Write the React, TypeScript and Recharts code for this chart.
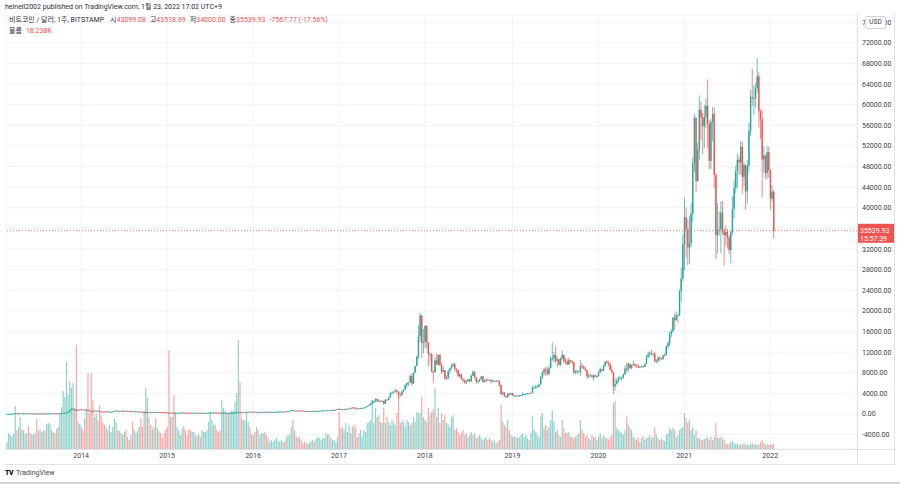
import React from 'react';
import { ComposedChart, Bar, XAxis, YAxis, CartesianGrid, ReferenceLine } from 'recharts';

// ---- data: weekly BTC/USD (Bitstamp), first week = 2013-02-25 ----
const FIRST_OPEN = 31;
const LAST_OPEN = 43099.08;
const FUTURE_WEEKS = 50;

const YEAR_TICKS = [45, 97, 149, 201, 253, 306, 358, 410, 462];
const YEAR_LABELS = ['2014', '2015', '2016', '2017', '2018', '2019', '2020', '2021', '2022'];

// 36000 is hidden behind the last-price tag, as in the reference
const PRICE_TICKS = [-4000, 0, 4000, 8000, 12000, 16000, 20000, 24000, 28000, 32000, 40000, 44000, 48000, 52000, 56000, 60000, 64000, 68000, 72000, 76000];
const GRID_TICKS = [-4000, 0, 4000, 8000, 12000, 16000, 20000, 24000, 28000, 32000, 36000, 40000, 44000, 48000, 52000, 56000, 60000, 64000, 68000, 72000, 76000];

const CLOSE = [
  // 2013
  34, 46, 47, 71, 93, 143, 90, 127, 135, 112, 117, 123, 133, 129, 100, 100, 108, 94, 76, 98, 90, 95, 105, 104, 110, 120, 132, 120, 126, 123, 130, 124, 138, 160, 188, 211, 343, 430, 780, 960, 1010, 870, 640, 730, 900,
  // 2014
  870, 830, 800, 820, 690, 620, 600, 560, 630, 640, 580, 500, 450, 440, 430, 500, 440, 440, 450, 520, 580, 650, 590, 580, 590, 630, 630, 620, 600, 590, 590, 500, 510, 480, 480, 480, 410, 390, 330, 360, 390, 350, 340, 370, 380, 375, 380, 370, 350, 330, 320, 315,
  // 2015
  270, 200, 250, 230, 220, 235, 240, 270, 275, 285, 260, 250, 245, 235, 225, 230, 235, 240, 237, 240, 225, 225, 235, 245, 250, 260, 270, 290, 290, 285, 260, 255, 230, 230, 235, 240, 230, 235, 240, 245, 260, 285, 315, 385, 330, 325, 360, 390, 415, 460, 440, 430,
  // 2016
  450, 380, 400, 375, 375, 380, 435, 430, 410, 410, 415, 415, 415, 420, 425, 445, 460, 460, 455, 440, 525, 535, 580, 760, 665, 675, 650, 665, 660, 655, 590, 570, 580, 575, 575, 605, 610, 600, 610, 615, 640, 655, 700, 700, 710, 740, 730, 750, 765, 790, 890, 975,
  // 2017
  910, 820, 920, 920, 1015, 1000, 1050, 1180, 1255, 1230, 1030, 970, 1090, 1180, 1180, 1250, 1350, 1550, 1720, 2050, 2200, 2520, 2950, 2500, 2580, 2430, 2510, 1970, 2760, 2750, 3220, 4050, 4090, 4350, 4580, 4330, 3700, 3640, 4390, 4750, 5660, 6000, 6130, 7380, 5880, 8050, 9300, 11100, 15050, 19100, 13800, 14000,
  // 2018
  17100, 13800, 11600, 11600, 8200, 8100, 10400, 9600, 11450, 9500, 8200, 8500, 6850, 7000, 8350, 8900, 9400, 9650, 8700, 8500, 7350, 7700, 6780, 6500, 6150, 6380, 6750, 6350, 7400, 8200, 7050, 6300, 6400, 6700, 7300, 6200, 6500, 6700, 6620, 6600, 6300, 6400, 6400, 6450, 6350, 5600, 3900, 4150, 3550, 3250, 3950, 3750, 4050,
  // 2019
  3550, 3550, 3550, 3450, 3650, 3650, 3800, 3850, 3900, 4000, 3980, 4100, 5050, 5050, 5300, 5300, 5750, 7200, 8000, 8700, 8500, 7800, 8900, 10750, 10800, 11450, 10300, 10600, 9500, 10800, 11500, 10200, 10150, 9600, 10450, 10300, 10000, 8050, 8300, 8300, 8200, 9250, 9150, 8800, 8500, 7300, 7400, 7500, 7100, 7500, 7250, 7350,
  // 2020
  8050, 8650, 8350, 9350, 10150, 9900, 9650, 8550, 8050, 5350, 5800, 6400, 6800, 7000, 7100, 7700, 8800, 8750, 9700, 8900, 9450, 9650, 9350, 9300, 9050, 9080, 9250, 9150, 9700, 11000, 11600, 11850, 11650, 11700, 10250, 10350, 10950, 10750, 10650, 11350, 11500, 13100, 13750, 15500, 16050, 18700, 18200, 19150, 19200, 23800, 26300, 33000,
  // 2021
  38200, 35800, 32300, 33100, 38900, 48600, 57500, 45200, 51200, 59000, 57500, 55800, 57600, 59800, 56200, 49100, 56600, 58200, 46400, 34700, 35700, 35800, 39100, 35600, 34700, 35300, 34200, 31800, 35400, 39800, 43800, 47100, 49300, 48800, 51800, 46000, 48300, 43200, 48200, 54900, 61500, 61300, 61300, 63300, 65500, 58700, 57200, 49400, 50100, 46700, 50800, 47300,
  // 2022
  41800, 43107.7, 35539.93,
];

const HIGH = [
  // 2013
  35, 48, 48, 74, 95, 170, 266, 130, 145, 145, 118, 125, 134, 133, 129, 110, 112, 109, 95, 99, 98, 97, 108, 108, 111, 122, 135, 132, 128, 128, 133, 141, 140, 164, 195, 215, 343, 450, 900, 1163, 1160, 1050, 880, 760, 950,
  // 2014
  1000, 920, 870, 850, 830, 710, 660, 620, 680, 670, 640, 590, 510, 480, 460, 530, 510, 455, 460, 525, 600, 680, 670, 610, 600, 650, 650, 640, 630, 600, 600, 595, 525, 520, 500, 490, 485, 420, 400, 380, 410, 400, 360, 380, 450, 400, 390, 385, 375, 355, 335, 325,
  // 2015
  320, 275, 255, 310, 245, 240, 245, 275, 290, 300, 295, 265, 255, 260, 240, 240, 240, 245, 245, 245, 241, 232, 235, 255, 255, 265, 315, 300, 310, 300, 290, 270, 262, 235, 240, 245, 240, 237, 245, 250, 270, 290, 320, 500, 390, 340, 365, 395, 420, 470, 465, 445,
  // 2016
  460, 455, 410, 400, 380, 385, 440, 445, 440, 425, 420, 420, 425, 425, 428, 450, 470, 465, 465, 460, 530, 550, 590, 780, 770, 700, 690, 680, 680, 665, 655, 595, 585, 585, 580, 610, 615, 612, 615, 620, 645, 660, 710, 740, 725, 750, 750, 755, 770, 790, 900, 980,
  // 2017
  1150, 920, 930, 930, 1020, 1050, 1060, 1200, 1270, 1300, 1250, 1070, 1100, 1200, 1210, 1260, 1360, 1600, 1790, 2100, 2760, 2600, 3000, 2980, 2780, 2620, 2680, 2600, 2900, 2840, 3300, 4200, 4450, 4390, 4980, 4720, 4370, 4120, 4420, 4800, 5780, 6180, 6180, 7600, 7880, 8100, 9350, 11380, 17200, 19666, 19150, 16500,
  // 2018
  17250, 17200, 14000, 12000, 11800, 8500, 11000, 11800, 11500, 11700, 10000, 9200, 8500, 7500, 8450, 9000, 9750, 9950, 9950, 8900, 8600, 7800, 7800, 6900, 6850, 6550, 6800, 6800, 7700, 8500, 8250, 7150, 6600, 6900, 7300, 7420, 6650, 6850, 6830, 6700, 6650, 6800, 6500, 6500, 6620, 6500, 5650, 4400, 4300, 3600, 4000, 4150, 4100,
  // 2019
  4100, 3700, 3650, 3600, 3700, 3700, 4200, 3900, 3950, 4050, 4100, 4150, 5400, 5450, 5600, 5650, 5900, 7400, 8300, 8900, 9100, 9100, 9400, 11200, 13880, 12000, 13200, 11100, 10700, 11000, 12300, 11500, 10900, 10650, 10900, 10450, 10400, 10100, 8500, 8650, 8450, 10500, 9900, 9500, 9100, 8600, 7850, 7800, 7650, 7700, 7700, 7550,
  // 2020
  8450, 9000, 8800, 9600, 10200, 10500, 10300, 9950, 9200, 8150, 6950, 6950, 7300, 7450, 7300, 7800, 9450, 10000, 9950, 9850, 9600, 10400, 9950, 9600, 9800, 9300, 9450, 9350, 9800, 11450, 12100, 12100, 12450, 11800, 12050, 10600, 11100, 11200, 10950, 11500, 11750, 13200, 14100, 15950, 16500, 18800, 19500, 19900, 19400, 24200, 28400, 34800,
  // 2021
  41950, 40100, 37800, 38500, 40900, 49700, 58300, 57500, 52600, 61800, 60600, 58400, 60000, 61200, 64900, 57000, 57200, 59500, 59500, 46700, 40900, 39300, 41300, 41300, 36000, 36600, 35900, 34700, 35400, 42200, 45300, 48100, 50500, 50000, 52900, 52900, 48800, 48400, 49200, 56500, 62900, 67000, 63700, 64200, 69000, 66300, 59100, 59000, 51900, 50400, 52000, 51900,
  // 2022
  47500, 44400, 43518.69,
];

const LOW = [
  // 2013
  30, 33, 42, 46, 71, 93, 50, 82, 120, 80, 105, 112, 120, 125, 98, 95, 98, 93, 67, 75, 88, 88, 94, 101, 102, 110, 118, 110, 119, 120, 122, 110, 123, 138, 160, 185, 211, 300, 430, 780, 700, 830, 455, 600, 720,
  // 2014
  820, 800, 760, 740, 660, 500, 550, 400, 540, 600, 560, 480, 440, 420, 340, 400, 420, 420, 430, 440, 520, 570, 580, 560, 560, 580, 610, 610, 590, 580, 570, 490, 480, 470, 460, 465, 400, 380, 320, 275, 340, 340, 330, 320, 330, 350, 360, 360, 340, 310, 310, 300,
  // 2015
  265, 166, 200, 215, 210, 215, 230, 230, 260, 270, 255, 245, 235, 232, 220, 218, 220, 235, 232, 235, 222, 220, 223, 232, 242, 245, 255, 270, 275, 280, 255, 250, 200, 200, 225, 230, 225, 227, 230, 237, 245, 260, 285, 310, 305, 310, 320, 350, 350, 410, 415, 410,
  // 2016
  425, 360, 375, 365, 365, 370, 380, 410, 400, 405, 410, 408, 410, 413, 420, 420, 440, 440, 448, 435, 440, 520, 530, 580, 550, 605, 630, 645, 650, 640, 480, 565, 570, 565, 570, 570, 600, 595, 595, 605, 612, 630, 650, 680, 685, 700, 720, 730, 745, 765, 785, 880,
  // 2017
  750, 760, 800, 880, 910, 930, 975, 1040, 1160, 1000, 940, 890, 930, 1070, 1130, 1150, 1230, 1340, 1550, 1680, 1850, 2100, 2300, 2200, 2330, 2300, 2380, 1800, 1970, 2600, 2700, 3180, 3890, 3980, 4200, 3950, 2980, 3550, 3580, 4150, 4700, 5100, 5400, 6100, 5500, 5850, 7900, 9300, 10700, 14000, 10800, 11800,
  // 2018
  12800, 12600, 9200, 10000, 8150, 6000, 8100, 9500, 9400, 9300, 7750, 8100, 6600, 6580, 6650, 7800, 8700, 9100, 8350, 7950, 7100, 7000, 6650, 6100, 5780, 5800, 6200, 6100, 6250, 7400, 6900, 5900, 5880, 6200, 6650, 6100, 6150, 6150, 6450, 6380, 6000, 6250, 6300, 6280, 6200, 5200, 3500, 3700, 3300, 3150, 3200, 3550, 3700,
  // 2019
  3550, 3500, 3400, 3350, 3380, 3550, 3550, 3700, 3700, 3850, 3900, 3900, 4050, 4900, 4950, 5150, 5200, 5700, 6800, 7400, 7500, 7450, 7500, 8900, 10300, 10000, 9900, 9050, 9400, 9300, 10500, 9900, 9650, 9400, 9550, 9900, 9600, 7700, 7700, 7750, 7950, 7350, 8800, 8700, 8350, 6800, 6900, 7300, 7000, 6450, 7150, 6900,
  // 2020
  7250, 8000, 8250, 8300, 9150, 9700, 9300, 8450, 8000, 3850, 4450, 5700, 6100, 6750, 6500, 6800, 7600, 8150, 8100, 8800, 8600, 9350, 9100, 8950, 8950, 8950, 9050, 9000, 9100, 9650, 10950, 11150, 11400, 11100, 9900, 9850, 9900, 10200, 10500, 10500, 11200, 11350, 12700, 13200, 14850, 15750, 16300, 18100, 17600, 19000, 21800, 25800,
  // 2021
  27800, 30400, 28800, 29200, 32300, 37300, 46800, 43000, 45000, 49300, 53200, 50400, 51600, 55500, 51700, 47500, 47400, 52900, 43800, 30000, 31100, 34600, 31200, 34800, 28800, 32700, 32100, 31000, 29300, 34700, 38000, 42800, 43900, 46300, 46500, 42800, 44100, 39600, 40800, 47000, 53900, 59800, 58000, 59400, 62300, 55600, 53300, 42000, 46800, 45600, 45500, 45800,
  // 2022
  39650, 41250, 34000,
];

// weekly volume, thousand BTC
const VOLUME = [
  // 2013
  26, 58, 51, 44, 55, 157, 69, 80, 117, 73, 69, 55, 58, 84, 58, 55, 51, 58, 110, 66, 73, 62, 69, 66, 91, 95, 91, 69, 62, 58, 73, 80, 131, 153, 212, 190, 318, 197, 248, 223, 241, 146, 380, 99, 91,
  // 2014
  80, 69, 110, 146, 277, 131, 277, 179, 117, 131, 106, 161, 124, 95, 88, 80, 69, 88, 62, 80, 110, 99, 69, 66, 58, 51, 62, 69, 44, 33, 51, 99, 69, 58, 66, 80, 113, 80, 139, 223, 186, 117, 88, 73, 80, 113, 77, 66, 58, 40, 58, 69,
  // 2015
  80, 361, 117, 117, 197, 135, 80, 69, 51, 73, 84, 69, 51, 73, 69, 62, 62, 51, 47, 55, 44, 69, 62, 62, 69, 99, 135, 106, 88, 88, 69, 62, 69, 179, 150, 139, 131, 131, 135, 142, 139, 172, 204, 398, 245, 113, 106, 106, 131, 99, 80, 55,
  // 2016
  51, 62, 80, 69, 51, 58, 58, 62, 51, 40, 26, 33, 26, 33, 40, 29, 26, 33, 26, 26, 44, 51, 51, 80, 106, 69, 47, 40, 44, 33, 22, 26, 22, 18, 22, 29, 33, 26, 37, 44, 40, 33, 40, 40, 58, 51, 51, 40, 33, 33, 26, 44,
  // 2017
  135, 77, 80, 69, 95, 62, 88, 58, 80, 88, 77, 44, 58, 69, 44, 69, 62, 95, 99, 106, 179, 95, 150, 117, 124, 99, 95, 150, 95, 117, 99, 88, 106, 95, 88, 131, 197, 95, 106, 99, 80, 106, 99, 88, 95, 117, 99, 135, 131, 131, 190, 117,
  // 2018
  106, 99, 150, 124, 135, 146, 223, 117, 150, 95, 131, 106, 124, 95, 88, 80, 117, 124, 69, 77, 62, 51, 58, 69, 51, 58, 44, 51, 62, 51, 58, 40, 44, 51, 40, 33, 40, 44, 33, 40, 33, 26, 33, 22, 26, 33, 161, 99, 88, 80, 106, 69, 51,
  // 2019
  44, 47, 44, 40, 44, 51, 58, 44, 51, 40, 33, 58, 120, 69, 62, 51, 44, 117, 131, 77, 88, 69, 80, 106, 142, 99, 62, 69, 51, 44, 106, 77, 58, 58, 62, 44, 44, 40, 44, 51, 58, 106, 69, 58, 44, 51, 40, 33, 51, 44, 44, 33,
  // 2020
  44, 58, 40, 51, 44, 40, 33, 44, 51, 168, 175, 77, 69, 62, 58, 51, 69, 117, 88, 77, 69, 44, 40, 33, 44, 26, 40, 47, 33, 40, 44, 51, 40, 44, 80, 51, 40, 33, 40, 33, 29, 51, 58, 77, 69, 77, 69, 44, 51, 69, 77, 80,
  // 2021
  131, 113, 95, 106, 69, 80, 51, 69, 40, 40, 33, 33, 37, 40, 44, 33, 44, 33, 44, 95, 40, 40, 44, 40, 33, 22, 18, 18, 26, 29, 22, 18, 18, 15, 18, 15, 22, 15, 18, 15, 18, 22, 15, 18, 15, 15, 26, 33, 22, 15, 18, 15,
  // 2022
  15, 18, 18.238,
];

// ---- styling ----
const UP = '#26a69a';
const DOWN = '#ef5350';
const UP_VOL = 'rgba(38,166,154,0.5)';
const DOWN_VOL = 'rgba(239,83,80,0.5)';
const TEXT = '#3b3f48';
const FONT = 'Roboto, "Noto Sans CJK KR", sans-serif';

type Row = { i: number; o?: number; h?: number; l?: number; c?: number; range?: [number, number]; v?: number };

const rows: Row[] = [];
{
  let prev = FIRST_OPEN;
  for (let i = 0; i < CLOSE.length; i++) {
    const o = i === CLOSE.length - 1 ? LAST_OPEN : prev;
    rows.push({ i, o, h: HIGH[i], l: LOW[i], c: CLOSE[i], range: [LOW[i], HIGH[i]], v: VOLUME[i] });
    prev = CLOSE[i];
  }
  for (let k = 0; k < FUTURE_WEEKS; k++) rows.push({ i: CLOSE.length + k });
}

const Candle = (p: any) => {
  const { x, y, width, height, payload } = p;
  if (!payload || payload.h == null || x == null) return <g />;
  const top = Math.min(y, y + height);
  const hh = Math.abs(height);
  const cx = x + width / 2;
  const span = payload.h - payload.l;
  const k = span > 0 ? hh / span : 0;
  const yo = top + (payload.h - payload.o) * k;
  const yc = top + (payload.h - payload.c) * k;
  const color = payload.c >= payload.o ? UP : DOWN;
  const bTop = Math.min(yo, yc);
  const bH = Math.max(Math.abs(yc - yo), 0.9);
  return (
    <g>
      <line x1={cx} x2={cx} y1={top} y2={top + Math.max(hh, 0.9)} stroke={color} strokeWidth={0.7} />
      <rect x={cx - 0.7} y={bTop} width={1.4} height={bH} fill={color} />
    </g>
  );
};

const Vol = (p: any) => {
  const { x, y, width, height, payload } = p;
  if (!payload || payload.v == null || x == null) return <g />;
  const color = payload.c >= payload.o ? UP_VOL : DOWN_VOL;
  return <rect x={x + width / 2 - 0.6} y={y} width={1.2} height={Math.max(height, 0)} fill={color} />;
};

const PriceTag = (p: any) => {
  const vb = p.viewBox || {};
  const x0 = (vb.x || 0) + (vb.width || 0);
  const y0 = vb.y || 0;
  return (
    <g>
      <rect x={x0} y={y0 - 7} width={37} height={19} fill={DOWN} />
      <text x={x0 + 3} y={y0 + 2} fontSize={7} fill="#fff" fontFamily={FONT}>35539.93</text>
      <text x={x0 + 3} y={y0 + 10} fontSize={7} fill="#fff" fontFamily={FONT}>15:57:39</text>
    </g>
  );
};

export default function App() {
  const red = { color: DOWN };
  return (
    <div style={{ position: 'absolute', left: 0, top: 0, width: 900, height: 484, background: '#fff', fontFamily: FONT, overflow: 'hidden' }}>
      <ComposedChart
        width={900}
        height={484}
        data={rows}
        margin={{ top: 15, right: 6, bottom: 20, left: 6 }}
        barCategoryGap={0}
        barGap={0}
      >
        <CartesianGrid xAxisId="p" yAxisId="g" stroke="#f0f3fa" strokeWidth={1} />
        <XAxis
          xAxisId="p"
          dataKey="i"
          type="category"
          ticks={YEAR_TICKS}
          interval={0}
          tickFormatter={(v: number) => YEAR_LABELS[YEAR_TICKS.indexOf(v)] ?? ''}
          axisLine={false}
          tickLine={false}
          tickSize={0}
          tickMargin={4}
          height={15}
          tick={{ fontSize: 7, fill: TEXT, fontFamily: FONT }}
        />
        <XAxis xAxisId="v" dataKey="i" type="category" hide />
        <YAxis
          yAxisId="p"
          orientation="right"
          width={37}
          type="number"
          domain={[-6790, 77400]}
          allowDataOverflow
          ticks={PRICE_TICKS}
          interval={0}
          tickFormatter={(v: number) => v.toFixed(2)}
          axisLine={false}
          tickLine={false}
          tickSize={0}
          tickMargin={5}
          tick={{ fontSize: 7, fill: TEXT, fontFamily: FONT }}
        />
        <YAxis yAxisId="g" hide type="number" domain={[-6790, 77400]} allowDataOverflow ticks={GRID_TICKS} interval={0} />
        <YAxis yAxisId="v" hide type="number" domain={[0, 1584]} allowDataOverflow />
        <Bar xAxisId="v" yAxisId="v" dataKey="v" shape={Vol} isAnimationActive={false} />
        <Bar xAxisId="p" yAxisId="p" dataKey="range" shape={Candle} isAnimationActive={false} />
        <ReferenceLine
          xAxisId="p"
          yAxisId="p"
          y={35539.93}
          stroke={DOWN}
          strokeWidth={0.8}
          strokeDasharray="1 2"
          label={<PriceTag />}
        />
      </ComposedChart>

      {/* frame lines */}
      <div style={{ position: 'absolute', left: 857, top: 13, width: 1, height: 451, background: '#e0e3eb' }} />
      <div style={{ position: 'absolute', left: 894, top: 13, width: 1, height: 451, background: '#e0e3eb' }} />
      <div style={{ position: 'absolute', left: 5, top: 449, width: 890, height: 1, background: '#e0e3eb' }} />
      <div style={{ position: 'absolute', left: 5, top: 464, width: 890, height: 1, background: '#e0e3eb' }} />
      <div style={{ position: 'absolute', left: 0, top: 482, width: 900, height: 2, background: '#d4d4d4' }} />

      {/* USD badge */}
      <div style={{ position: 'absolute', left: 865, top: 16, width: 19, height: 11, border: '1px solid #d1d4dc', borderRadius: 2, background: '#fff', fontSize: 6.5, lineHeight: '11px', textAlign: 'center', color: TEXT }}>USD</div>

      {/* header */}
      <div style={{ position: 'absolute', left: 5, top: 3, fontSize: 7, lineHeight: '9px', color: '#2a2e39', whiteSpace: 'nowrap' }}>
        helnell2002 published on TradingView.com, 1월 23, 2022 17:02 UTC+9
      </div>
      <div style={{ position: 'absolute', left: 9, top: 16, fontSize: 7, lineHeight: '9px', color: '#2a2e39', whiteSpace: 'nowrap' }}>
        <span>비트코인 / 달러, 1주, BITSTAMP</span>
        <span style={{ marginLeft: 6 }}>시</span><span style={red}>43099.08</span>
        <span style={{ marginLeft: 4 }}>고</span><span style={red}>43518.69</span>
        <span style={{ marginLeft: 4 }}>저</span><span style={red}>34000.00</span>
        <span style={{ marginLeft: 4 }}>종</span><span style={red}>35539.93</span>
        <span style={{ ...red, marginLeft: 4 }}>-7567.77 (-17.56%)</span>
      </div>
      <div style={{ position: 'absolute', left: 9, top: 27, fontSize: 7, lineHeight: '9px', color: '#2a2e39', whiteSpace: 'nowrap' }}>
        <span>볼륨</span><span style={{ ...red, marginLeft: 4 }}>18.238K</span>
      </div>

      {/* footer logo */}
      <div style={{ position: 'absolute', left: 5, top: 469, fontSize: 7, lineHeight: '9px', color: '#444', whiteSpace: 'nowrap' }}>
        <span style={{ fontWeight: 900, color: '#131722', letterSpacing: -0.5 }}>TV</span>
        <span style={{ marginLeft: 3 }}>TradingView</span>
      </div>
    </div>
  );
}
